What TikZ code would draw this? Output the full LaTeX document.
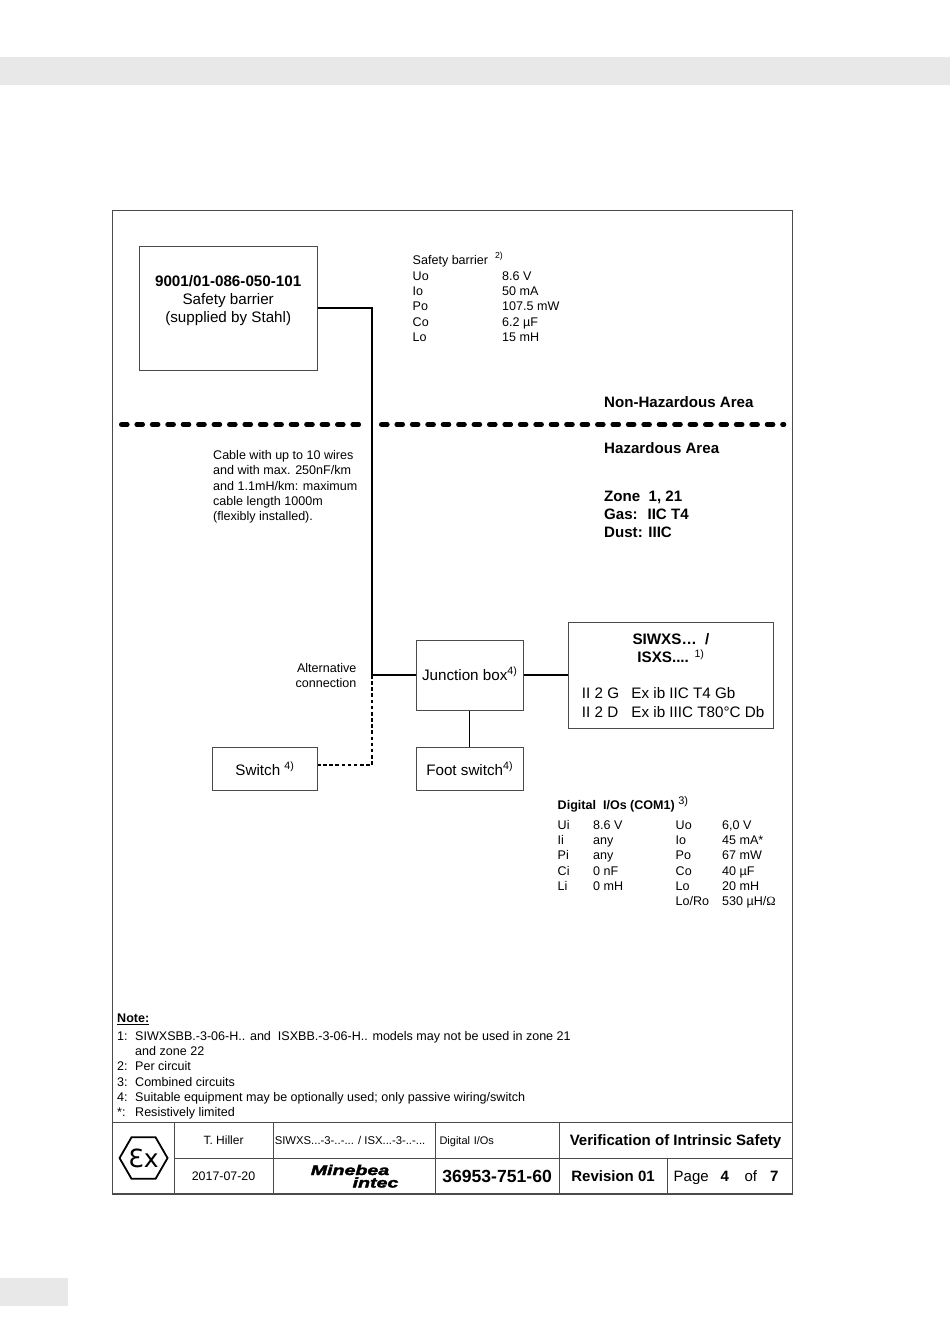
\documentclass[tikz,border=0pt]{standalone}
\usepackage{fontspec}
\setmainfont{Liberation Sans}
\newfontfamily\logofont{DejaVu Sans}
\newfontfamily\omegafont{Liberation Serif}
\newfontfamily\brandfont{Liberation Sans}[BoldItalicFeatures={FakeBold=2}]
\usepackage{xcolor}
\usetikzlibrary{shapes.geometric, positioning}
\definecolor{bandGrey}{HTML}{E8E8E8}
\definecolor{frameGrey}{HTML}{4A4A4A}
\newcommand{\sizeText}{\fontsize{12.55}{15.1}\selectfont}
\newcommand{\sizeBox}{\fontsize{15.2}{18.2}\selectfont}

\begin{document}
\begin{tikzpicture}[
    x=1pt, y=-1pt,
    block/.style={draw=frameGrey, line width=0.9pt, inner sep=0pt, align=center, font=\sizeBox},
    cell/.style={draw=frameGrey, line width=1.1pt, inner sep=0pt, align=center, anchor=north west},
    data/.style={anchor=north west, inner sep=0pt, font=\sizeText},
    area/.style={anchor=west, inner sep=0pt, font=\fontsize{15.1}{18}\selectfont\bfseries, align=left},
    brand/.style={inner sep=0pt, xscale=1.4, font=\brandfont\fontsize{14}{14}\selectfont\bfseries\itshape},
    wire/.style={line width=2.4pt},
    wirethin/.style={line width=1.4pt},
    wirealt/.style={line width=2.4pt, dash pattern=on 3.6pt off 2.55pt},
    border/.style={line width=4.6pt, line cap=round, dash pattern=on 6pt off 9.43pt},
]
\useasboundingbox (0,0) rectangle (950,1344);
\fill[bandGrey] (0,57) rectangle (950,85);
\fill[bandGrey] (0,1278) rectangle (68,1306);
\node[draw=frameGrey, line width=1.1pt, anchor=north west, inner sep=0pt,
      minimum width=679.5pt, minimum height=983.5pt] (sheet) at (112,209.5) {};

% boxes
\node[block, anchor=north west, minimum width=178.5pt, minimum height=124.5pt] (barrier) at (138.5,245.5)
    {\textbf{9001/01-086-050-101}\\Safety barrier\\(supplied by Stahl)\\~};
\node[block, anchor=north west, minimum width=107.5pt, minimum height=70.5pt, text depth=3pt] (junction) at (415.5,639.5)
    {Junction box\textsuperscript{4)}};
\node[block, anchor=north west, minimum width=205pt, minimum height=106.5pt] (device) at (568,621.5)
    {\textbf{SIWXS\dots\ \ /}\\\textbf{ISXS....} \textsuperscript{1)}\\~\\
     \makebox[178pt][l]{\makebox[49.5pt][l]{II 2 G}Ex ib IIC T4 Gb}\\
     \makebox[178pt][l]{\makebox[49.5pt][l]{II 2 D}Ex ib IIIC T80°C Db}};
\node[block, anchor=north west, minimum width=105pt, minimum height=43.5pt] (switch) at (212,746.5)
    {Switch \textsuperscript{4)}};
\node[block, anchor=north west, minimum width=107.5pt, minimum height=43.5pt] (footswitch) at (415.5,746.5)
    {Foot switch\textsuperscript{4)}};

% connections
\coordinate (tee) at (372,675);
\coordinate (altcorner) at (372,765);
\draw[wire] (barrier.east) -| (tee) -- (tee -| junction.west);
\draw[wire] (junction.east) -- (device.west);
\draw[wirethin] (junction.south) -- (footswitch.north);
\draw[wirealt] (tee) -- (altcorner) -- (switch.east |- altcorner);

% area boundary
\coordinate (borderA) at (121.3,424.5);
\coordinate (borderB) at (358.9,424.5);
\coordinate (borderC) at (381.3,424.5);
\coordinate (borderD) at (784,424.5);
\draw[border] (borderA) -- (borderB);
\draw[border] (borderC) -- (borderD);

% labels
\node[data] (barriertitle) at (412.5,252) {Safety barrier \ \raisebox{1.5pt}{\textsuperscript{2)}}};
\node[data] (barrierdata) at (412.5,270) {\begin{tabular}{@{}p{89.5pt}@{}l@{}}
    Uo & 8.6 V\\ Io & 50 mA\\ Po & 107.5 mW\\ Co & 6.2 µF\\ Lo & 15 mH
\end{tabular}};
\node[area] (nonhaz) at (604,402) {Non-Hazardous Area};
\node[area] (haz) at (604,448) {Hazardous Area};
\node[area, anchor=north west] (zones) at (604,491) {Zone \ 1, 21\\Gas: \ IIC T4\\Dust: IIIC};
\node[data, align=left] (cable) at (213,450.5) {Cable with up to 10 wires\\and with max. 250nF/km\\and 1.1mH/km: maximum\\cable length 1000m\\(flexibly installed).};
\node[data, align=right, anchor=north east] (alt) at (356.5,663.5) {Alternative\\connection};
\node[data, font=\sizeText\bfseries] (iotitle) at (557.5,796) {Digital \ I/Os (COM1) \raisebox{5pt}{\mdseries\fontsize{11}{11}\selectfont 3)}};
\node[data] (iodata) at (557.5,819) {\begin{tabular}{@{}p{35.5pt}@{}p{82.5pt}@{}p{46.5pt}@{}l@{}}
    Ui & 8.6 V & Uo & 6,0 V\\
    Ii & any & Io & 45 mA*\\
    Pi & any & Po & 67 mW\\
    Ci & 0 nF & Co & 40 µF\\
    Li & 0 mH & Lo & 20 mH\\
     & & Lo/Ro & 530 µH/{\omegafont Ω}
\end{tabular}};
\node[data, font=\sizeText\bfseries] (notetitle) at (117,1014) {\underline{Note:}};
\node[data] (notes) at (117,1030) {\begin{tabular}{@{}p{18pt}@{}l@{}}
    1: & SIWXSBB.-3-06-H.. and \ ISXBB.-3-06-H.. models may not be used in zone 21\\
       & and zone 22\\
    2: & Per circuit\\
    3: & Combined circuits\\
    4: & Suitable equipment may be optionally used; only passive wiring/switch\\
    {*}: & Resistively limited
\end{tabular}};

% title block
\node[cell, minimum width=62pt, minimum height=72pt] (excell) at (112,1121.5) {};
\node[regular polygon, regular polygon sides=6, draw=black, line width=1.8pt, inner sep=0pt,
      minimum size=48pt] (exlogo) at (excell.center) {};
\node[inner sep=0pt, font=\logofont\fontsize{25}{25}\selectfont] (extext) at (exlogo.center) {Ɛx};
\node[cell, minimum width=99pt, minimum height=36pt, font=\fontsize{12}{13}\selectfont] (author) at (173.5,1121.5) {T. Hiller};
\node[cell, minimum width=99pt, minimum height=36pt, font=\fontsize{12.4}{13}\selectfont] (datecell) at (173.5,1157.5) {2017-07-20};
\node[cell, minimum width=162pt, minimum height=36pt, font=\fontsize{11.3}{13}\selectfont] (models) at (272.5,1121.5) {SIWXS...-3-..-... / ISX...-3-..-...\hspace*{8pt}};
\node[cell, minimum width=162pt, minimum height=36pt] (brandcell) at (272.5,1157.5) {};
\node[brand] (minebea) at (350,1170) {Minebea};
\node[brand] (intec) at (375.5,1182.5) {intec};
\node[cell, minimum width=124pt, minimum height=36pt, font=\fontsize{11}{13}\selectfont, align=left, text width=115pt, text height=11pt] (iocell) at (434.5,1121.5) {Digital I/Os};
\node[cell, minimum width=124pt, minimum height=36pt, font=\fontsize{17.6}{20}\selectfont\bfseries] (number) at (434.5,1157.5) {36953-751-60};
\node[cell, minimum width=233pt, minimum height=36pt, font=\fontsize{15.05}{18}\selectfont\bfseries, text height=13pt] (title) at (558.5,1121.5) {Verification of Intrinsic Safety};
\node[cell, minimum width=108pt, minimum height=36pt, font=\fontsize{15}{18}\selectfont\bfseries] (revision) at (558.5,1157.5) {Revision 01};
\node[cell, minimum width=125pt, minimum height=36pt, font=\fontsize{15}{18}\selectfont, text height=13pt] (page) at (666.5,1157.5) {Page\hspace{12pt}\textbf{4}\hspace{15.5pt}of\hspace{13pt}\textbf{7}\hspace*{7pt}};
\end{tikzpicture}
\end{document}
